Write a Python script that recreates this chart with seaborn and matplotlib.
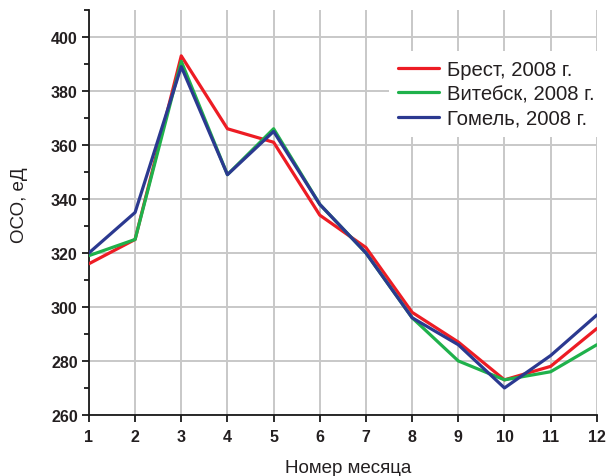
import matplotlib
matplotlib.use("Agg")
import matplotlib.pyplot as plt
from matplotlib.ticker import MultipleLocator
import seaborn as sns
import pandas as pd

months = list(range(1, 13))
brest = [316, 325, 393, 366, 361, 334, 322, 298, 287, 273, 278, 292]
vitebsk = [319, 325, 391, 349, 366, 338, 320, 296, 280, 273, 276, 286]
gomel = [320, 335, 389, 349, 365, 338, 320, 296, 286, 270, 282, 297]
series_names = ["Брест, 2008 г.", "Витебск, 2008 г.", "Гомель, 2008 г."]
colors = ["#ed1c24", "#1fb14b", "#2b3990"]

df = pd.DataFrame({
    "month": months * 3,
    "oso": brest + vitebsk + gomel,
    "series": [series_names[0]] * 12 + [series_names[1]] * 12 + [series_names[2]] * 12,
})

sns.set_theme(style="white")
plt.rcParams["font.family"] = ["Liberation Sans", "DejaVu Sans"]

fig = plt.figure(figsize=(6.09, 4.77), dpi=100)
ax = fig.add_axes([0.146, 0.128, 0.834, 0.849])

sns.lineplot(data=df, x="month", y="oso", hue="series", hue_order=series_names,
             palette=colors, linewidth=2.3, ax=ax, legend=False, zorder=3)

ax.set_xlim(1, 12)
ax.set_ylim(260, 410)
ax.set_xticks(months)
ax.yaxis.set_major_locator(MultipleLocator(20))
ax.yaxis.set_minor_locator(MultipleLocator(10))
ax.set_yticks(range(260, 401, 20))

ax.grid(True, which="major", color="#c8c8c8", linewidth=1.4)
ax.set_axisbelow(True)
for s in ["top", "right"]:
    ax.spines[s].set_visible(False)
for s in ["left", "bottom"]:
    ax.spines[s].set_color("#1a1a1a")
    ax.spines[s].set_linewidth(1.3)

ax.tick_params(axis="both", which="major", direction="out", length=5, width=1.3,
               color="#1a1a1a", labelsize=11.5)
ax.tick_params(axis="x", which="major", pad=5)
ax.tick_params(axis="y", which="major", pad=3)
ax.tick_params(axis="y", which="minor", direction="out", length=3.5, width=1.3,
               color="#1a1a1a", left=True)
ax.tick_params(axis="x", bottom=True)
ax.tick_params(axis="y", left=True)
for lab in ax.get_xticklabels() + ax.get_yticklabels():
    lab.set_fontweight("bold")
    lab.set_color("#231f20")

ax.set_xlabel("Номер месяца", fontsize=13.5, color="#231f20")
ax.xaxis.set_label_coords(0.51, -0.109)
ax.set_ylabel("ОСО, еД", fontsize=13.5, color="#231f20")
ax.yaxis.set_label_coords(-0.12, 0.52)

handles = ax.get_lines()[:3]
leg = ax.legend(handles, series_names, loc="upper left", bbox_to_anchor=(0.571, 0.924),
                frameon=True, framealpha=1, edgecolor="none", facecolor="white",
                fancybox=False, handlelength=2.0, handletextpad=0.4,
                labelspacing=0.27, borderpad=0.45, fontsize=14.6)
for t in leg.get_texts():
    t.set_color("#231f20")

fig.savefig("out.png", dpi=100)
